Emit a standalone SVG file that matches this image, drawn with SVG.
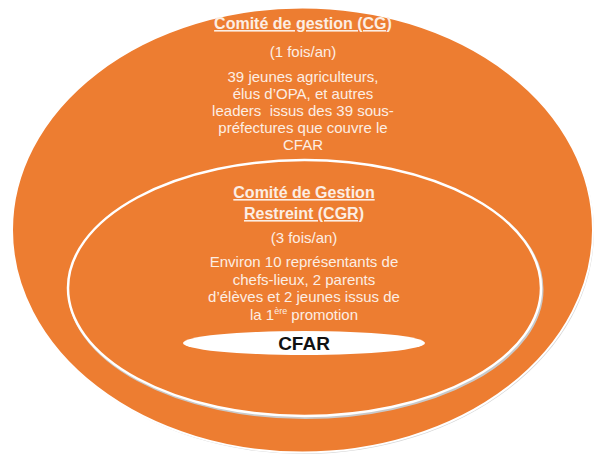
<svg xmlns="http://www.w3.org/2000/svg" width="596" height="454" viewBox="0 0 596 454">
<style>
.t{font-family:"Liberation Sans",Arial,sans-serif;font-size:15px;fill:#FCEEE4;text-anchor:middle}
.h{font-weight:bold;text-decoration:underline;font-size:16px}
</style>
<rect width="596" height="454" fill="#ffffff"/>
<g id="cg">
<ellipse cx="303.5" cy="231.5" rx="290.5" ry="222.5" fill="#d6d6d6"/>
<ellipse cx="302.5" cy="230" rx="290.5" ry="222.5" fill="#ED7D31" stroke="#ffffff" stroke-width="2"/>
<text class="t h" x="303" y="29">Comité de gestion (CG)</text>
<text class="t" x="303" y="57">(1 fois/an)</text>
<text class="t" x="303" y="82">39 jeunes agriculteurs,</text>
<text class="t" x="303" y="99">élus d’OPA, et autres</text>
<text class="t" x="303" y="116" xml:space="preserve">leaders  issus des 39 sous-</text>
<text class="t" x="303" y="133">préfectures que couvre le</text>
<text class="t" x="303" y="150">CFAR</text>
</g>
<g id="cgr">
<ellipse cx="305.5" cy="289.5" rx="236.5" ry="128" fill="none" stroke="#c9c9c9" stroke-width="3"/>
<ellipse cx="304.5" cy="288" rx="236.5" ry="128" fill="#ED7D31" stroke="#ffffff" stroke-width="2.5"/>
<text class="t h" x="304" y="198">Comité de Gestion</text>
<text class="t h" x="304" y="219">Restreint (CGR)</text>
<text class="t" x="304" y="243">(3 fois/an)</text>
<text class="t" x="304" y="267">Environ 10 représentants de</text>
<text class="t" x="304" y="285">chefs-lieux, 2 parents</text>
<text class="t" x="304" y="302">d’élèves et 2 jeunes issus de</text>
<text class="t" x="304" y="320">la 1<tspan font-size="9" dy="-6">ère</tspan><tspan dy="6"> promotion</tspan></text>
</g>
<g id="cfar">
<ellipse cx="304" cy="343" rx="121" ry="12" fill="#ffffff"/>
<text x="304" y="350" font-family="'Liberation Sans',Arial,sans-serif" font-size="19" font-weight="bold" fill="#111111" text-anchor="middle">CFAR</text>
</g>
</svg>
